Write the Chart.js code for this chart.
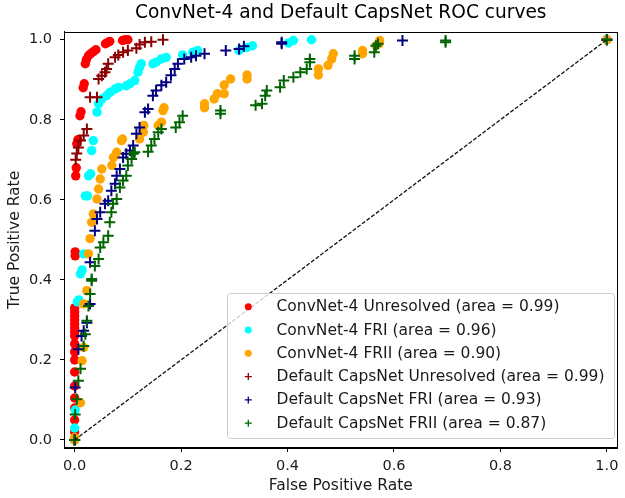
<!DOCTYPE html>
<html>
<head>
<meta charset="utf-8">
<script src="https://cdn.jsdelivr.net/npm/chart.js@4.4.0/dist/chart.umd.min.js"></script>
<style>
html,body{margin:0;padding:0;background:#fff;}
canvas{display:block;}
</style>
</head>
<body>
<canvas id="c" width="625" height="498"></canvas>
<script>
// ---- data ----
const titleText = "ConvNet-4 and Default CapsNet ROC curves";
const xTitle = "False Positive Rate";
const yTitle = "True Positive Rate";
const tickValues = [0.0, 0.2, 0.4, 0.6, 0.8, 1.0];

const seriesLabels = [
  "ConvNet-4 Unresolved (area = 0.99)",
  "ConvNet-4 FRI (area = 0.96)",
  "ConvNet-4 FRII (area = 0.90)",
  "Default CapsNet Unresolved (area = 0.99)",
  "Default CapsNet FRI (area = 0.93)",
  "Default CapsNet FRII (area = 0.87)"
];

const cnnUnresFpr = [0,0,0,0,0,0,0,0,0,0,0,0,0,0,0,0,0,0,0.001,0.001,0.002,0.003,0.004,0.006,0.010,0.012,0.016,0.018,0.020,0.022,0.026,0.030,0.035,0.040,0.058,0.062,0.066,0.090,0.095,0.100,1];
const cnnUnresTpr = [0,0.02,0.05,0.08,0.105,0.135,0.17,0.20,0.22,0.24,0.26,0.27,0.28,0.29,0.30,0.31,0.32,0.33,0.46,0.47,0.66,0.68,0.74,0.75,0.81,0.82,0.88,0.89,0.94,0.95,0.96,0.965,0.97,0.975,0.99,0.993,0.996,0.998,1.0,1.0,1];

const cnnFriFpr = [0,0,0.001,0.005,0.008,0.011,0.014,0.017,0.020,0.024,0.026,0.030,0.032,0.035,0.042,0.045,0.051,0.060,0.067,0.076,0.082,0.097,0.104,0.113,0.119,0.122,0.125,0.147,0.153,0.163,0.172,0.203,0.222,0.231,0.309,0.324,0.334,0.402,0.411,0.445,1];
const cnnFriTpr = [0,0.03,0.075,0.345,0.35,0.415,0.425,0.465,0.61,0.61,0.66,0.665,0.723,0.748,0.819,0.84,0.852,0.86,0.869,0.877,0.881,0.885,0.89,0.898,0.919,0.931,0.94,0.94,0.944,0.952,0.956,0.962,0.969,0.973,0.973,0.981,0.985,0.992,0.998,1.0,1];

const cnnFriiFpr = [0,0,0.011,0.014,0.017,0.017,0.023,0.026,0.029,0.032,0.035,0.042,0.045,0.048,0.051,0.070,0.073,0.079,0.088,0.090,0.122,0.129,0.130,0.157,0.163,0.166,0.168,0.244,0.244,0.262,0.268,0.281,0.281,0.293,0.324,0.324,0.458,0.458,0.476,0.483,0.486,0.541,0.541,0.566,0.572,0.573,1];
const cnnFriiTpr = [0,0.006,0.093,0.198,0.231,0.34,0.373,0.465,0.503,0.544,0.565,0.602,0.627,0.652,0.677,0.686,0.706,0.719,0.748,0.752,0.752,0.769,0.786,0.786,0.794,0.823,0.83,0.83,0.84,0.852,0.865,0.865,0.887,0.902,0.902,0.912,0.912,0.927,0.936,0.952,0.965,0.965,0.973,0.985,0.99,0.998,1];

const capsUnresFpr = [0,0.002,0.004,0.007,0.011,0.017,0.023,0.029,0.042,0.045,0.051,0.057,0.060,0.063,0.076,0.082,0.091,0.100,0.116,0.122,0.132,0.144,0.166,1];
const capsUnresTpr = [0,0.70,0.716,0.731,0.748,0.761,0.777,0.856,0.856,0.902,0.91,0.919,0.927,0.94,0.956,0.962,0.969,0.973,0.979,0.988,0.994,0.995,1.0,1];

const capsFriFpr = [0,0.001,0.007,0.013,0.017,0.023,0.029,0.029,0.038,0.042,0.048,0.057,0.063,0.069,0.076,0.079,0.085,0.091,0.097,0.104,0.110,0.116,0.122,0.132,0.138,0.147,0.153,0.163,0.172,0.181,0.188,0.194,0.206,0.219,0.228,0.244,0.284,0.309,0.318,0.389,0.389,0.616,1];
const capsFriTpr = [0,0.131,0.227,0.26,0.273,0.293,0.34,0.444,0.523,0.552,0.569,0.59,0.598,0.623,0.64,0.66,0.677,0.706,0.715,0.723,0.736,0.765,0.781,0.819,0.827,0.86,0.873,0.886,0.894,0.911,0.927,0.94,0.952,0.956,0.96,0.965,0.973,0.977,0.984,0.99,0.994,0.998,1];

const capsFriiFpr = [0,0.001,0.004,0.007,0.011,0.017,0.020,0.023,0.026,0.029,0.032,0.032,0.038,0.045,0.048,0.054,0.063,0.066,0.069,0.072,0.079,0.085,0.091,0.097,0.100,0.107,0.110,0.113,0.138,0.144,0.150,0.157,0.163,0.190,0.197,0.203,0.274,0.274,0.340,0.352,0.358,0.361,0.386,0.393,0.411,0.424,0.436,0.442,0.442,0.526,0.526,0.563,0.566,0.570,0.697,0.697,1];
const capsFriiTpr = [0,0.064,0.102,0.148,0.178,0.235,0.264,0.298,0.335,0.365,0.398,0.402,0.435,0.452,0.481,0.494,0.51,0.544,0.569,0.59,0.602,0.631,0.648,0.66,0.686,0.702,0.715,0.719,0.72,0.736,0.752,0.769,0.777,0.781,0.794,0.81,0.815,0.823,0.836,0.84,0.86,0.873,0.881,0.898,0.906,0.919,0.927,0.944,0.952,0.952,0.96,0.969,0.985,0.99,0.994,0.998,1];

const chanceX = [0, 1];
const chanceY = [0, 1];

// ---- styles ----
const FONT = "'DejaVu Sans', sans-serif";
const colors = ['#ff0000', '#00ffff', '#ffa500', '#8b0000', '#000080', '#006400'];
const styles = ['circle','circle','circle','cross','cross','cross'];
const seriesX = [cnnUnresFpr, cnnFriFpr, cnnFriiFpr, capsUnresFpr, capsFriFpr, capsFriiFpr];
const seriesY = [cnnUnresTpr, cnnFriTpr, cnnFriiTpr, capsUnresTpr, capsFriTpr, capsFriiTpr];

function pts(xs, ys){ return xs.map((x,i)=>({x:x, y:ys[i]})); }

const datasets = seriesLabels.map((lab, i) => {
  const isCircle = styles[i] === 'circle';
  return {
    label: lab,
    data: pts(seriesX[i], seriesY[i]),
    pointStyle: styles[i],
    pointRadius: isCircle ? 4.7 : 5.5,
    pointBackgroundColor: colors[i],
    pointBorderColor: colors[i],
    pointBorderWidth: isCircle ? 0 : 2,
    showLine: false,
    order: 7 - i
  };
});
datasets.push({
  label: 'chance',
  data: pts(chanceX, chanceY),
  type: 'line',
  showLine: true,
  borderColor: '#111',
  borderWidth: 1.3,
  borderDash: [4, 1.8],
  pointRadius: 0,
  fill: false,
  order: 0
});

const framePlugin = {
  id: 'frameLegend',
  afterDatasetsDraw(chart){
    const ctx = chart.ctx, a = chart.chartArea;
    ctx.save();
    // legend box
    const lx = 227.5, ly = 293.5, lw = 387, lh = 145, r = 3;
    ctx.beginPath();
    ctx.moveTo(lx + r, ly);
    ctx.lineTo(lx + lw - r, ly); ctx.arcTo(lx + lw, ly, lx + lw, ly + r, r);
    ctx.lineTo(lx + lw, ly + lh - r); ctx.arcTo(lx + lw, ly + lh, lx + lw - r, ly + lh, r);
    ctx.lineTo(lx + r, ly + lh); ctx.arcTo(lx, ly + lh, lx, ly + lh - r, r);
    ctx.lineTo(lx, ly + r); ctx.arcTo(lx, ly, lx + r, ly, r);
    ctx.closePath();
    ctx.fillStyle = 'rgba(255,255,255,0.8)';
    ctx.fill();
    ctx.strokeStyle = '#cccccc';
    ctx.lineWidth = 1;
    ctx.stroke();
    ctx.font = "15.5px " + FONT;
    ctx.textBaseline = 'middle';
    ctx.textAlign = 'left';
    seriesLabels.forEach((lab, i) => {
      const y = 306.7 + 23.3 * i;
      const mx = 248.3;
      if (styles[i] === 'circle') {
        ctx.beginPath();
        ctx.arc(mx, y, 3.5, 0, Math.PI * 2);
        ctx.fillStyle = colors[i];
        ctx.fill();
      } else {
        ctx.beginPath();
        ctx.moveTo(mx - 3.5, y); ctx.lineTo(mx + 3.5, y);
        ctx.moveTo(mx, y - 3.5); ctx.lineTo(mx, y + 3.5);
        ctx.strokeStyle = colors[i];
        ctx.lineWidth = 1.3;
        ctx.stroke();
      }
      ctx.fillStyle = '#1a1a1a';
      ctx.fillText(lab, 276.5, y + 0.5);
    });
    // frame
    ctx.strokeStyle = '#000';
    ctx.lineWidth = 1;
    ctx.strokeRect(Math.round(a.left) + 0.5, Math.round(a.top) + 0.5, Math.round(a.right - a.left) - 1, Math.round(a.bottom - a.top) - 1);
    ctx.restore();
  }
};

function setTicks(scale){ scale.ticks = tickValues.map(v => ({value: v})); }

new Chart(document.getElementById('c'), {
  type: 'scatter',
  data: { datasets: datasets },
  options: {
    responsive: false,
    animation: false,
    devicePixelRatio: 1,
    layout: { padding: { left: 0, right: 1.5, top: 0, bottom: 0 } },
    plugins: {
      legend: { display: false },
      tooltip: { enabled: false },
      title: {
        display: true,
        fullSize: false,
        text: titleText,
        color: '#000',
        font: { family: FONT, size: 18.6, weight: 'normal', lineHeight: 1.2 },
        padding: { top: 2, bottom: 7.4 }
      }
    },
    scales: {
      x: {
        type: 'linear',
        min: -0.02, max: 1.02,
        afterBuildTicks: setTicks,
        afterFit: s => { s.height = 50; },
        grid: { drawOnChartArea: false, drawTicks: true, tickLength: 4, color: '#000' },
        border: { display: true, color: '#000', width: 1 },
        ticks: { color: '#1a1a1a', font: { family: FONT, size: 14.5 }, padding: 6, maxRotation: 0, callback: v => Number(v).toFixed(1) },
        title: { display: true, text: xTitle, color: '#1a1a1a', font: { family: FONT, size: 15.5 }, padding: { top: 2, bottom: 2.7 } }
      },
      y: {
        type: 'linear',
        min: -0.02, max: 1.02,
        afterBuildTicks: setTicks,
        afterFit: s => { s.width = 64; },
        grid: { drawOnChartArea: false, drawTicks: true, tickLength: 4, color: '#000' },
        border: { display: true, color: '#000', width: 1 },
        ticks: { color: '#1a1a1a', font: { family: FONT, size: 14.5 }, padding: 8, callback: v => Number(v).toFixed(1) },
        title: { display: true, text: yTitle, color: '#1a1a1a', font: { family: FONT, size: 15.5 }, padding: { top: 5.5, bottom: 0 } }
      }
    }
  },
  plugins: [framePlugin]
});
</script>
</body>
</html>
